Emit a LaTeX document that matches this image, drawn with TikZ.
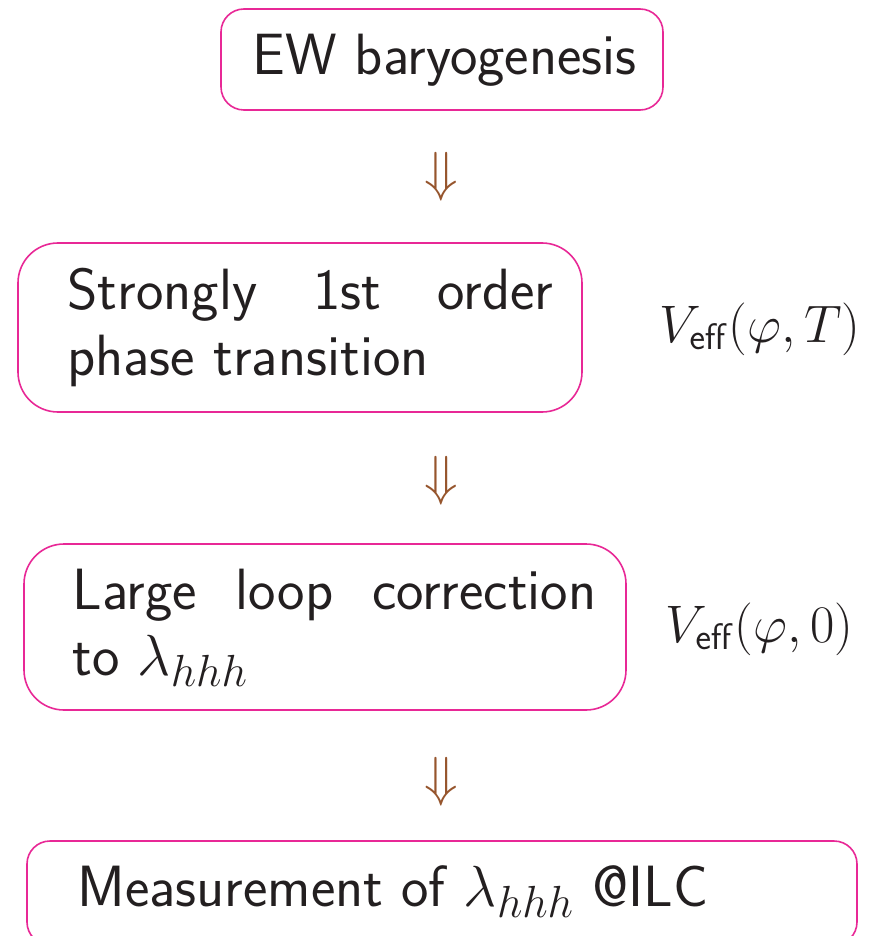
\RequirePackage{fix-cm}
\documentclass[tikz,border=0pt]{standalone}
\usetikzlibrary{positioning}
\definecolor{boxpink}{RGB}{232,40,150}
\definecolor{arrbrown}{RGB}{150,85,45}
\definecolor{txt}{RGB}{35,31,32}
\DeclareMathSizes{29}{29}{22.5}{17}
\newcommand{\mbig}[1]{{\fontsize{29}{33}\selectfont$#1$}}
\tikzset{
  flowbox/.style={draw=boxpink, line width=0.8pt, fill=white},
  lbl/.style={inner sep=0pt, anchor=base west, text=txt, font=\fontsize{29.1}{33}\selectfont\sffamily},
  side/.style={inner sep=0pt, anchor=base west, text=txt, font=\fontsize{26.4}{33}\selectfont},
  darr/.style={inner sep=0pt, text=arrbrown, font=\fontsize{27.5}{33}\selectfont}
}
\begin{document}
\begin{tikzpicture}[x=0.5pt,y=-0.5pt]
\useasboundingbox (0,0) rectangle (881,936);
\clip (0,0) rectangle (881,936);
% boxes
\draw[flowbox, rounded corners=11.5pt] (221,9) rectangle (663,110);
\draw[flowbox, rounded corners=20pt] (18,243) rectangle (582,412);
\draw[flowbox, rounded corners=20pt] (24,544) rectangle (626,710);
\draw[flowbox, rounded corners=11.5pt] (27,841) rectangle (857,945);
% texts
\node[lbl] (t1) at (252,75) {EW baryogenesis};
\node[lbl] (t2) at (67,309) {\parbox[t]{243pt}{Strongly 1st order\linebreak phase transition}};
\node[lbl] (t3) at (72,609) {\parbox[t]{262pt}{Large loop correction\linebreak to \mbig{\lambda_{hhh}}}};
\node[lbl] (t4) at (77,906) {Measurement of \mbig{\lambda_{hhh}} @ILC};
% side labels
\node[side] (v1) at (659,342) {$V_{\mathsf{eff}}(\varphi,T)$};
\node[side] (v2) at (665,642) {$V_{\mathsf{eff}}(\varphi,0)$};
% arrows
\node[darr] (a1) at (441,177) {$\Downarrow$};
\node[darr] (a2) at (441,481) {$\Downarrow$};
\node[darr] (a3) at (441,782) {$\Downarrow$};
\end{tikzpicture}
\end{document}
